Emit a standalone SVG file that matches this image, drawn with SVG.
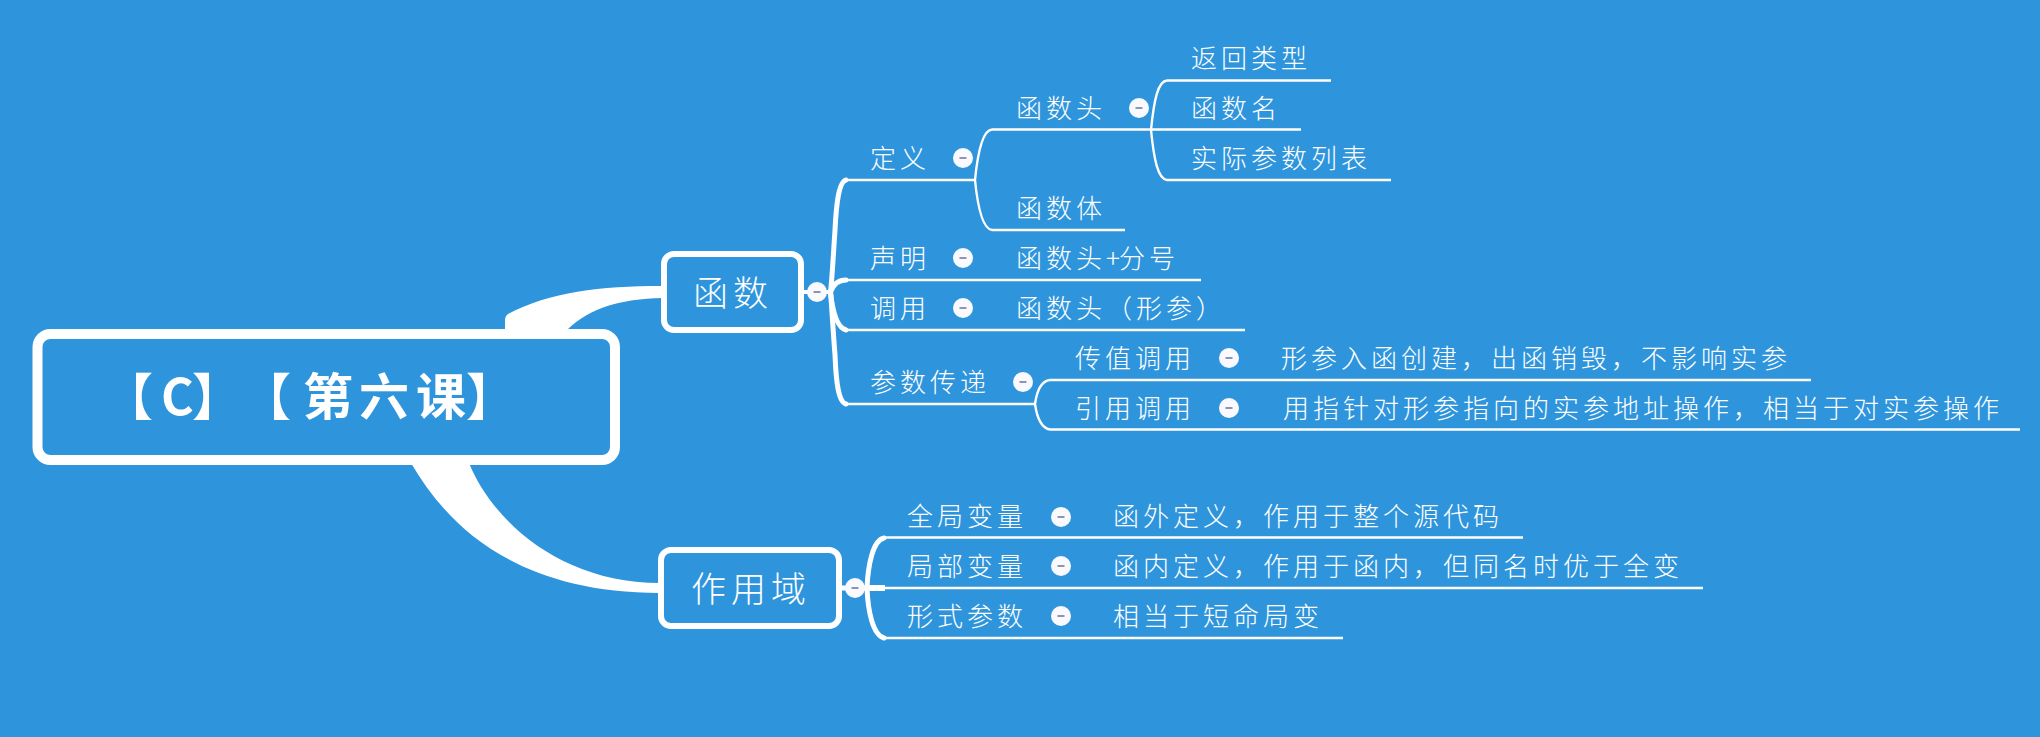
<svg xmlns="http://www.w3.org/2000/svg" width="2040" height="737" viewBox="0 0 2040 737">
<style>
text{font-family:"Noto Sans CJK SC","Noto Sans CJK TC",sans-serif;fill:#fff}
.t{font-size:26px;letter-spacing:4px;font-weight:300}
.n{font-size:35px;letter-spacing:5px;font-weight:300;text-anchor:middle}
.r{font-size:50px;font-weight:700}
.box{fill:#2e95dd;stroke:#fff}
.l{fill:none;stroke:#fff;stroke-width:2.4}
.h{fill:none;stroke:#fff;stroke-width:5;stroke-linecap:round}
.c{fill:#fafafe}
.d{stroke:#8a97b0;stroke-width:2}
</style>
<defs>
<g id="tog"><circle r="10" class="c"/><line x1="-3.5" x2="3.5" class="d"/></g>
</defs>
<rect width="2040" height="737" fill="#2e95dd"/>
<g id="connectors">
<path d="M505 329V319Q505 316 508 314C550 292 600 286 662 286V298C620 299 590 308 568 329Z" fill="#fff"/>
<path d="M411 463C450 530 520 593 660 593V583C560 583 492 520 469 463Z" fill="#fff"/>
<path d="M800 292H830" stroke="#fff" stroke-width="4"/>
<path class="h" d="M846 180C838 182 836 210 835 230C833 260 832 280 830.5 292C832 310 833 330 835 355C836 380 838 402 846 404"/>
<path class="h" d="M846 280C838 280 833 285 830.5 292C833 315 838 328 846 330" stroke-width="4"/>
<path class="l" d="M847 180H975M847 280H1201M847 330H1245M847 404H1035"/>
<path class="l" d="M992 129.5C983 130 978 150 975 180C978 210 983 229 992 230M992 129.5H1301M992 230H1125"/>
<path class="l" d="M1167 80.500C1158 81 1154 100 1151 130C1154 160 1158 179 1167 180M1167 80.500H1331M1167 180H1391"/>
<path class="l" d="M1050 380C1041 381 1037 390 1035 404C1037 418 1041 428 1050 429.500M1050 380H1811M1050 429.500H2020"/>
<path d="M840 588H868" stroke="#fff" stroke-width="5"/>
<path class="h" d="M884 538C873 540 868 565 867 588C868 612 873 635 884 638"/>
<path d="M867 588H885" stroke="#fff" stroke-width="6"/>
<path class="l" d="M885 537.500H1523M885 588H1703M885 638H1343"/>
</g>
<g id="root"><rect class="box" x="37.500" y="334" width="577.500" height="126" rx="13" stroke-width="10"/>
<text class="r" y="415" x="103 161 192 241 303 359 416 466">【C】【第六课】</text></g>
<g id="n-hanshu"><rect class="box" x="664" y="254" width="137" height="76" rx="10" stroke-width="6"/><text class="n" x="733" y="306">函数</text><use href="#tog" x="817" y="292"/></g>
<g id="n-zuoyongyu"><rect class="box" x="661" y="550" width="178" height="76" rx="10" stroke-width="6"/><text class="n" x="751" y="602">作用域</text><use href="#tog" x="855" y="588"/></g>
<g id="n-dingyi"><text class="t" x="870" y="168">定义</text><use href="#tog" x="963" y="158"/></g>
<g id="n-hanshutou"><text class="t" x="1016" y="118">函数头</text><use href="#tog" x="1139" y="108"/></g>
<g id="n-fanhui"><text class="t" x="1191" y="68">返回类型</text></g>
<g id="n-hanshuming"><text class="t" x="1191" y="118">函数名</text></g>
<g id="n-shiji"><text class="t" x="1191" y="168">实际参数列表</text></g>
<g id="n-hanshuti"><text class="t" x="1016" y="218">函数体</text></g>
<g id="n-shengming"><text class="t" x="870" y="268">声明</text><use href="#tog" x="963" y="258"/></g>
<g id="n-fenhao"><text class="t" x="1016" y="268">函数头+<tspan dx="-5">分号</tspan></text></g>
<g id="n-diaoyong"><text class="t" x="870" y="318">调用</text><use href="#tog" x="963" y="308"/></g>
<g id="n-xingcan"><text class="t" x="1016" y="318">函数头（形参）</text></g>
<g id="n-canshu"><text class="t" x="870" y="392">参数传递</text><use href="#tog" x="1023" y="382"/></g>
<g id="n-chuanzhi"><text class="t" x="1075" y="368">传值调用</text><use href="#tog" x="1229" y="358"/></g>
<g id="n-chuanzhi-d"><text class="t" x="1281" y="368">形参入函创建，出函销毁，不影响实参</text></g>
<g id="n-yinyong"><text class="t" x="1075" y="418">引用调用</text><use href="#tog" x="1229" y="408"/></g>
<g id="n-yinyong-d"><text class="t" x="1283" y="418">用指针对形参指向的实参地址操作，相当于对实参操作</text></g>
<g id="n-quanju"><text class="t" x="907" y="526">全局变量</text><use href="#tog" x="1061" y="517"/></g>
<g id="n-quanju-d"><text class="t" x="1113" y="526">函外定义，作用于整个源代码</text></g>
<g id="n-jubu"><text class="t" x="907" y="576">局部变量</text><use href="#tog" x="1061" y="566"/></g>
<g id="n-jubu-d"><text class="t" x="1113" y="576">函内定义，作用于函内，但同名时优于全变</text></g>
<g id="n-xingshi"><text class="t" x="907" y="626">形式参数</text><use href="#tog" x="1061" y="616"/></g>
<g id="n-xingshi-d"><text class="t" x="1113" y="626">相当于短命局变</text></g>
</svg>
